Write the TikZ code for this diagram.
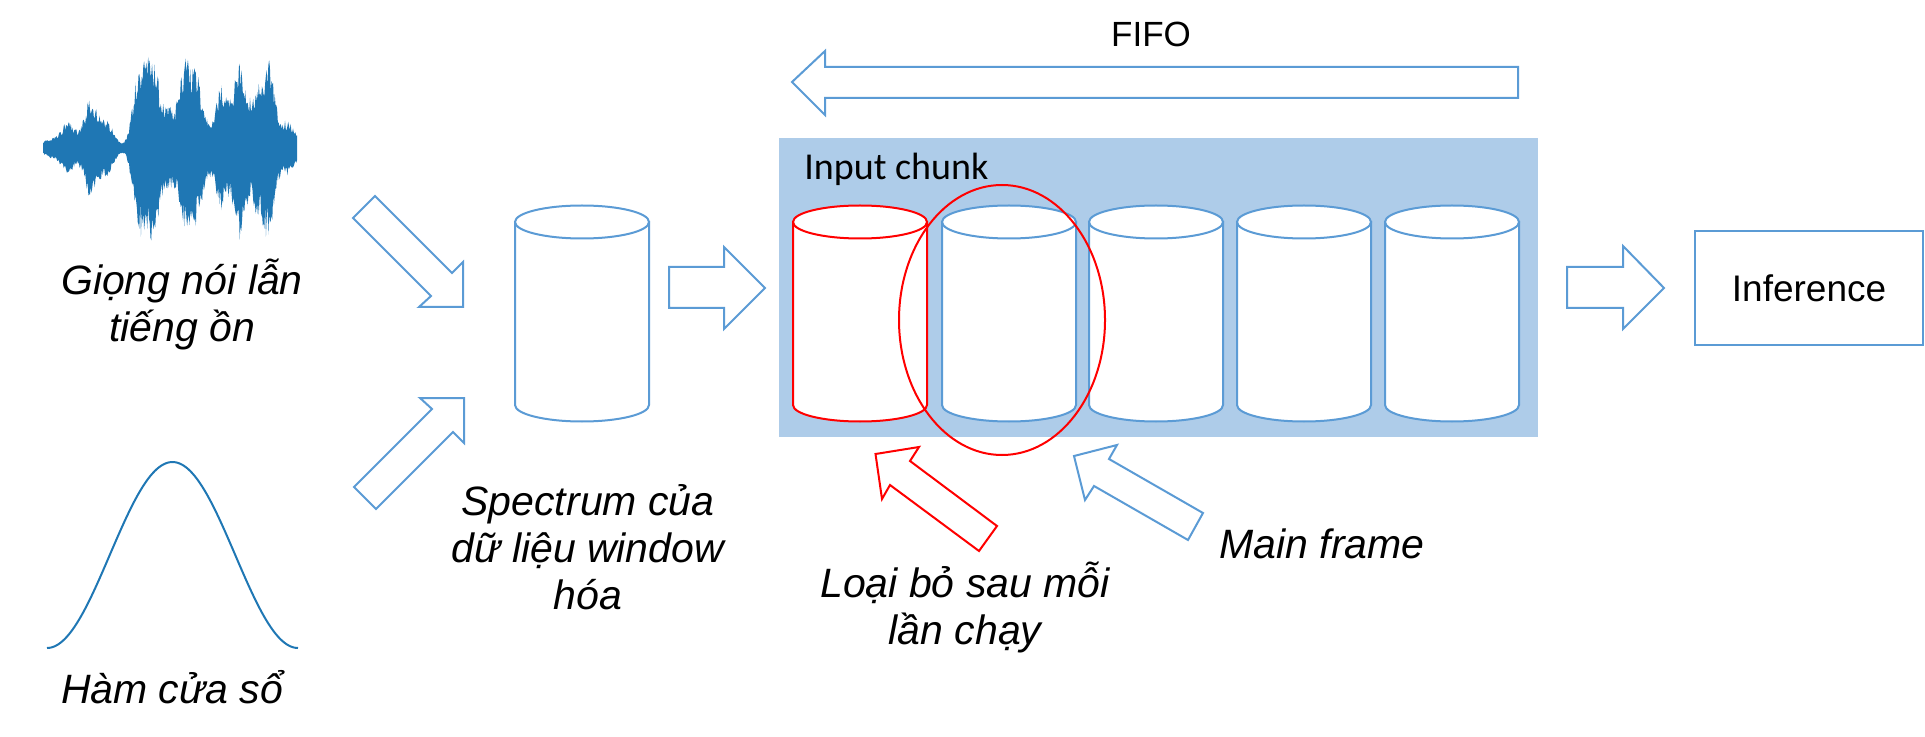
\documentclass[tikz,border=0pt]{standalone}
\usepackage{fontspec}
\setmainfont{Liberation Sans}
\newfontfamily\carl{Carlito}
\definecolor{accent}{RGB}{91,155,213}
\definecolor{panelblue}{RGB}{174,204,233}
\definecolor{wavecol}{RGB}{31,119,180}
\newcommand\clines[1]{\vtop{\halign{\hfil##\hfil\cr#1\crcr}}}
\newcommand\drawcyl[3]{% #1 left x, #2 colour, #3 name
  \filldraw[cylbody, draw=#2] (#1,222) -- (#1,405)
    .. controls (#1,414.1) and ({#1+30},421.5) .. ({#1+67},421.5)
    .. controls ({#1+104},421.5) and ({#1+134},414.1) .. ({#1+134},405)
    -- ({#1+134},222) -- cycle;
  \filldraw[cylbody, draw=#2] ({#1+67},222) ellipse [x radius=67, y radius=16.5];
  \coordinate (#3) at ({#1+67},313);
}
\begin{document}
\begin{tikzpicture}[x=0.5pt, y=-0.5pt,
  blk/.style={draw=accent, line width=1pt, line join=miter, fill=white},
  redblk/.style={draw=red, line width=1pt, line join=miter, fill=white},
  cylbody/.style={line width=1pt, fill=white},
  lab/.style={inner sep=0pt, font=\itshape\fontsize{20.5}{23.5}\selectfont},
  declare function={g(\x,\c,\w)=exp(-min(((\x-\c)/\w)^2,20));
    env(\x)=7*g(\x,50,9)+24*g(\x,68,10)+46*g(\x,90,9)+26*g(\x,106,10)
      +62*g(\x,138,8)+90*g(\x,152,11)+30*g(\x,170,8)
      +86*g(\x,186,9)+58*g(\x,198,7)+18*g(\x,208,6)
      +58*g(\x,221,8)+90*g(\x,240,10)+44*g(\x,256,6)+88*g(\x,268,9)+25*g(\x,288,10);}]
\useasboundingbox (0,0) rectangle (1925,737);

% waveform
\pgfmathsetseed{7}
\fill[wavecol] (43,148)
  -- plot[domain=43:297, samples=320] (\x,{148-env(\x)*(0.6+0.4*rnd)-2})
  -- plot[domain=297:43, samples=320] (\x,{148+env(\x)*(0.6+0.4*rnd)+2})
  -- cycle;
\node[lab, anchor=base] (voice) at (182,295) {\clines{Giọng nói lẫn\cr tiếng ồn}};

% window function
\draw[wavecol, line width=1pt] plot[domain=47:298, samples=120, smooth]
  (\x,{648-186*pow(sin(0.717131*(\x-47)),2)});
\node[lab, anchor=base] (win) at (172,703) {Hàm cửa sổ};

% diagonal arrows into the spectrum
\filldraw[blk] (353,218) -- (375,196) -- (452,273) -- (463,262) -- (463,307) -- (419,307) -- (431,296) -- cycle;
\filldraw[blk] (354,487) -- (376,509) -- (453,432) -- (464,443) -- (464,398) -- (420,398) -- (432,409) -- cycle;

% spectrum cylinder
\drawcyl{515}{accent}{spec}
\node[lab, anchor=base] (speclab) at (588,515) {\clines{Spectrum của\cr dữ liệu window\cr hóa}};

% arrow to chunk
\filldraw[blk] (669,267) -- (724,267) -- (724,247) -- (765,288) -- (724,329) -- (724,308) -- (669,308) -- cycle;

% FIFO arrow
\filldraw[blk] (1518,67) -- (825,67) -- (825,51) -- (792,82) -- (825,115) -- (825,98) -- (1518,98) -- cycle;
\node[inner sep=0pt, anchor=base, font=\fontsize{17.5}{20}\selectfont] (fifo) at (1151,47) {FIFO};

% input chunk panel
\fill[panelblue] (779,138) rectangle (1538,437);
\node[inner sep=0pt, anchor=base west, font=\carl\fontsize{19}{22}\selectfont] (chunk) at (804,180) {Input chunk};
\drawcyl{793}{red}{c1}
\drawcyl{942}{accent}{c2}
\drawcyl{1089}{accent}{c3}
\drawcyl{1237}{accent}{c4}
\drawcyl{1385}{accent}{c5}
\draw[red, line width=1pt] (1002,320) ellipse [x radius=103, y radius=135];

% arrow to inference
\filldraw[blk] (1567,267) -- (1623,267) -- (1623,246) -- (1664,288) -- (1623,329) -- (1623,308) -- (1567,308) -- cycle;
\node[draw=accent, line width=1pt, minimum width=114pt, minimum height=57pt, inner sep=0pt,
  font=\fontsize{18.5}{21}\selectfont] (inf) at (1809,288) {Inference};

% pointer arrows
\filldraw[redblk] (875.5,454) -- (919,447) -- (910,461) -- (997,526) -- (979,551) -- (890,485) -- (882,499) -- cycle;
\filldraw[blk] (1074,456) -- (1117,445) -- (1109,459) -- (1203,513) -- (1188,540) -- (1094,486) -- (1085,500) -- cycle;
\node[lab, anchor=base] (drop) at (965,597) {\clines{Loại bỏ sau mỗi\cr lần chạy}};
\node[lab, anchor=base west] (mainf) at (1219,558) {Main frame};
\end{tikzpicture}
\end{document}
